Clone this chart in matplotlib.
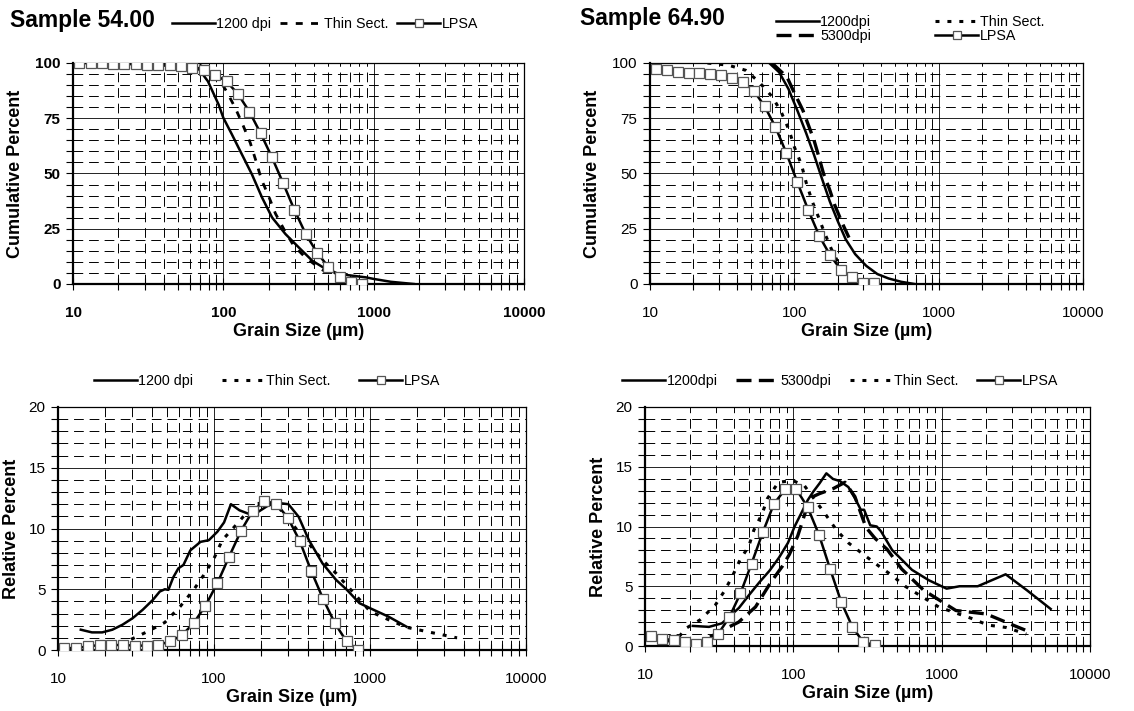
import numpy as np
import matplotlib
matplotlib.use('Agg')
import matplotlib.pyplot as plt
from matplotlib.lines import Line2D
from matplotlib.ticker import FixedLocator, NullFormatter

plt.rcParams['font.family'] = ['Liberation Sans', 'DejaVu Sans']

# LPSA sieve bins (um)
lpsa_bins = [11, 13.1, 15.6, 18.5, 22, 26.2, 31.1, 37, 44, 52.3, 62.2, 74, 88, 105, 125,
             149, 177, 210, 250, 297, 354, 420, 500, 595, 707, 841]

# --- Sample 54.00, cumulative
c54_lpsa_y = [100, 100, 100, 99.7, 99.7, 99.4, 99.2, 99.1, 99.0, 98.5, 97.7, 97.0, 94.7,
              91.7, 86.0, 78.0, 68.2, 57.5, 45.6, 33.5, 22.5, 14.2, 7.7, 3.0, 1.0, 0.0]
c54_1200_x = [15, 30, 50, 62, 68, 79, 93, 100, 114, 133, 155, 181, 211, 259, 318, 391,
              480, 589, 889, 1000, 1300, 1850]
c54_1200_y = [99.8, 99.5, 99.0, 98.5, 97.7, 91.7, 81.2, 75.2, 67.7, 58.6, 49.6, 39.1, 30.1,
              22.6, 16.5, 10.5, 6.8, 4.5, 3.0, 2.3, 1.0, 0.0]
c54_thin_x = [55, 70, 84, 95, 105, 120, 136, 151, 165, 179, 200, 222, 256, 294, 352, 444,
              550, 650, 780]
c54_thin_y = [100, 99, 95.5, 92, 87.2, 79.7, 71.4, 63.9, 55.6, 47.4, 39.8, 31.9, 24.1, 17.3,
              12.0, 6.8, 3.5, 1.5, 0.5]

# --- Sample 64.90, cumulative
c64_lpsa_y = [97.4, 96.8, 96.0, 95.6, 95.4, 95.1, 94.5, 93.4, 91.5, 87.5, 80.5, 71.0, 59.3,
              46.0, 33.4, 21.7, 13.0, 6.5, 3.0, 0.3, 0.3]
c64_1200_x = [67, 78.5, 91, 106, 121, 137, 155, 176, 200, 227, 264, 315, 376, 450, 550, 680]
c64_1200_y = [100, 95.8, 88.3, 77.8, 68.1, 58.4, 47.9, 37.4, 28.4, 20.2, 13.5, 8.2, 4.5, 2.5,
              1.0, 0.0]
c64_5300_x = [70, 89, 100, 114.6, 125, 136.8, 148, 159, 175, 190, 215, 239]
c64_5300_y = [100, 93.6, 86.5, 78.6, 72, 65.1, 57.5, 50.1, 43, 35.9, 27.5, 21.0]
c64_thin_x = [25, 35, 46, 57, 70.5, 81, 92, 100, 112, 121, 133, 148, 160, 180, 211, 240, 260]
c64_thin_y = [100, 99, 96.7, 91.4, 84.6, 77.9, 69.6, 62, 54, 45.7, 37.4, 29.8, 24, 16, 7, 2, 0]

# --- Sample 54.00, relative
r54_lpsa_y = [0.16, 0.16, 0.3, 0.41, 0.41, 0.41, 0.36, 0.36, 0.41, 0.71, 1.2, 2.21, 3.63,
              5.49, 7.68, 9.81, 11.45, 12.24, 12.05, 10.9, 8.99, 6.5, 4.21, 2.21, 0.71, 0.0]
r54_1200_x = [14, 16.5, 19.2, 22.3, 25.9, 30.1, 34.9, 40.6, 44.9, 48.4, 51, 54.8, 59.1, 63.7,
              70.5, 81.9, 92.7, 105, 116, 128.4, 145.6, 165, 192, 223, 259, 300, 349, 406,
              496, 606, 705, 857, 1005, 1312, 1713]
r54_1200_y = [1.67, 1.45, 1.45, 1.67, 2.08, 2.62, 3.31, 4.13, 4.81, 5.0, 4.95, 5.98, 6.72, 7.0,
              8.2, 8.9, 9.04, 9.73, 10.5, 12.0, 11.5, 11.23, 11.37, 11.9, 12.1, 12.0, 10.96,
              9.04, 7.13, 5.77, 5.0, 3.85, 3.43, 2.75, 1.92]
r54_thin_x = [25, 30, 37.7, 48.4, 60.7, 74, 86, 100, 113, 138, 182, 246, 349, 496, 606, 1005,
              1312, 1713, 2490, 3614]
r54_thin_y = [0.5, 0.93, 1.53, 2.27, 3.58, 4.95, 6.17, 7.54, 9.04, 10.27, 12.05, 12.1, 9.73,
              7.4, 6.31, 3.16, 2.5, 1.87, 1.43, 1.0]

# --- Sample 64.90, relative
r64_lpsa_y = [0.8, 0.6, 0.5, 0.3, 0.15, 0.3, 1.0, 2.4, 4.4, 6.9, 9.5, 11.9, 13.1, 13.1, 11.6,
              9.3, 6.45, 3.7, 1.6, 0.3, 0.1]
r64_1200_x = [21, 27, 33, 38, 43, 50, 59, 69, 80, 92, 102, 113, 125, 136, 150, 167, 185, 206,
              235, 262, 285, 300, 330, 365, 390, 463, 631, 820, 1080, 1320, 1750, 2700, 3760,
              5430]
r64_1200_y = [1.68, 1.6, 1.9, 2.58, 3.19, 4.23, 5.33, 6.29, 7.39, 8.63, 10.0, 11.1, 12.2, 12.9,
              13.6, 14.45, 13.98, 13.8, 13.3, 12.3, 11.4, 11.4, 10.1, 10.0, 9.6, 8.04, 6.37,
              5.5, 4.8, 5.0, 5.0, 6.0, 4.66, 3.1]
r64_5300_x = [10, 14, 18, 22, 27, 33, 42.8, 55.6, 70.5, 84.6, 94, 107, 122, 135.5, 150, 185,
              223, 260, 297, 310, 356, 428, 538, 757, 1247, 2000, 3178, 3760]
r64_5300_y = [0.5, 0.45, 0.3, 0.15, 0.7, 1.3, 2.0, 3.27, 5.33, 6.7, 7.66, 9.2, 11.4, 12.5,
              12.75, 13.16, 13.7, 12.5, 10.5, 9.9, 9.0, 8.1, 6.44, 4.66, 2.97, 2.68, 1.64, 1.27]
r64_thin_x = [17, 19, 23.4, 29.7, 33.9, 38.5, 43.9, 50.1, 54.2, 61.8, 66.8, 79.4, 99, 119, 163,
              195, 235, 297, 376, 460, 567, 959, 1580, 2055, 2716, 3720]
r64_thin_y = [0.8, 1.5, 2.17, 3.4, 4.5, 5.74, 7.25, 8.35, 9.7, 11.1, 12.33, 13.7, 13.85, 13.4,
              11.1, 9.72, 8.63, 7.66, 6.7, 5.93, 5.0, 3.25, 2.32, 1.75, 1.55, 1.0]

W, H = 1134, 711
fig = plt.figure(figsize=(W / 100, H / 100), dpi=100)


def px_axes(l, r, t, b):
    return fig.add_axes([l / W, 1 - b / H, (r - l) / W, (b - t) / H])


solid = dict(color='black', lw=1.8, ls='-')
dash53 = dict(color='black', lw=2.4, ls=(0, (4.5, 2.2)))
thin_tl = dict(color='black', lw=2.0, ls=(0, (2.5, 3)))
thin = dict(color='black', lw=2.2, ls=(0, (1.3, 2.6)))
lpsa = dict(color='black', lw=1.8, marker='s', ms=7, mfc='white', mec='#555555', mew=0.9)

LAB = 13
LEG = 10.3


def style(ax, ymax, major, minor, bold):
    ax.set_xscale('log')
    ax.set_xlim(10, 10000)
    ax.set_ylim(0, ymax)
    ax.xaxis.set_major_locator(FixedLocator([10, 100, 1000, 10000]))
    ax.xaxis.set_minor_locator(FixedLocator([m * d for d in (10, 100, 1000) for m in range(2, 10)]))
    ax.xaxis.set_minor_formatter(NullFormatter())
    ax.set_xticklabels(['10', '100', '1000', '10000'])
    ax.yaxis.set_major_locator(FixedLocator(np.arange(0, ymax + 0.1, major)))
    ax.yaxis.set_minor_locator(FixedLocator(np.arange(0, ymax + 0.1, minor)))
    ax.grid(which='major', color='black', lw=0.6, ls='-')
    ax.grid(which='minor', color='black', lw=0.7, ls=(0, (10, 6)))
    ax.set_axisbelow(True)
    ax.tick_params(axis='x', which='both', direction='inout', length=8, width=0.8,
                   pad=12, labelsize=11)
    ax.tick_params(axis='y', which='both', direction='out', length=5, width=0.8,
                   pad=4, labelsize=11)
    for s in ('left', 'bottom'):
        ax.spines[s].set_linewidth(1.6)
    for s in ('top', 'right'):
        ax.spines[s].set_linewidth(0.9)
    wt = 'bold' if bold else 'normal'
    for lab in ax.get_xticklabels() + ax.get_yticklabels():
        lab.set_fontweight(wt)
    ax.set_xlabel('Grain Size (µm)', fontsize=LAB, fontweight='bold', labelpad=2)


def handles(styles):
    return [Line2D([], [], **st) for st in styles]


# Top-left: Sample 54.00 cumulative
ax1 = px_axes(73, 524, 63, 284)
ax1.plot(c54_1200_x, c54_1200_y, **solid, zorder=3)
ax1.plot(c54_thin_x, c54_thin_y, **thin_tl, zorder=3)
ax1.plot(lpsa_bins, c54_lpsa_y, **lpsa, zorder=4)
style(ax1, 100, 25, 5, True)
ax1.set_ylabel('Cumulative Percent', fontsize=LAB, fontweight='bold', labelpad=8)
fig.text(10 / W, 1 - 21 / H, 'Sample 54.00', fontsize=16.5, fontweight='bold', va='center')
fig.legend(handles([solid, thin_tl, lpsa]), ['1200 dpi', 'Thin Sect.', 'LPSA'],
           loc='center', bbox_to_anchor=(325 / W, 1 - 24 / H), ncol=3, frameon=False,
           fontsize=LEG, handlelength=3.0, handletextpad=0.1, columnspacing=0.6,
           markerscale=0.85)

# Top-right: Sample 64.90 cumulative
ax2 = px_axes(650, 1083, 63, 284)
ax2.plot(c64_1200_x, c64_1200_y, **solid, zorder=3)
ax2.plot(c64_5300_x, c64_5300_y, **dash53, zorder=3)
ax2.plot(c64_thin_x, c64_thin_y, **thin, zorder=3)
ax2.plot(lpsa_bins[:21], c64_lpsa_y, **lpsa, zorder=4)
style(ax2, 100, 25, 5, False)
ax2.set_ylabel('Cumulative Percent', fontsize=LAB, fontweight='bold', labelpad=8)
fig.text(580 / W, 1 - 19 / H, 'Sample 64.90', fontsize=16.5, fontweight='bold', va='center')
fig.legend(handles([solid, dash53, thin, lpsa]), ['1200dpi', '5300dpi', 'Thin Sect.', 'LPSA'],
           loc='center', bbox_to_anchor=(910 / W, 1 - 29 / H), ncol=2, frameon=False,
           fontsize=LEG, handlelength=3.0, handletextpad=0.1, columnspacing=4.5,
           labelspacing=0.0, markerscale=0.85)

# Bottom-left: Sample 54.00 relative
ax3 = px_axes(58, 526, 407, 650)
ax3.plot(r54_1200_x, r54_1200_y, **solid, zorder=3)
ax3.plot(r54_thin_x, r54_thin_y, **thin, zorder=3)
ax3.plot(lpsa_bins, r54_lpsa_y, **lpsa, zorder=4)
style(ax3, 20, 5, 1, False)
ax3.set_ylabel('Relative Percent', fontsize=LAB, fontweight='bold', labelpad=6)
fig.legend(handles([solid, thin, lpsa]), ['1200 dpi', 'Thin Sect.', 'LPSA'],
           loc='center', bbox_to_anchor=(267 / W, 1 - 381 / H), ncol=3, frameon=False,
           fontsize=LEG, handlelength=3.0, handletextpad=0.1, columnspacing=2.0,
           markerscale=0.85)

# Bottom-right: Sample 64.90 relative
ax4 = px_axes(645, 1090, 407, 646)
ax4.plot(r64_1200_x, r64_1200_y, **solid, zorder=3)
ax4.plot(r64_5300_x, r64_5300_y, **dash53, zorder=3)
ax4.plot(r64_thin_x, r64_thin_y, **thin, zorder=3)
ax4.plot(lpsa_bins[:21], r64_lpsa_y, **lpsa, zorder=4)
style(ax4, 20, 5, 1, False)
ax4.set_ylabel('Relative Percent', fontsize=LAB, fontweight='bold', labelpad=6)
fig.legend(handles([solid, dash53, thin, lpsa]), ['1200dpi', '5300dpi', 'Thin Sect.', 'LPSA'],
           loc='center', bbox_to_anchor=(840 / W, 1 - 381 / H), ncol=4, frameon=False,
           fontsize=LEG, handlelength=3.0, handletextpad=0.1, columnspacing=1.3,
           markerscale=0.85)

fig.savefig('out.png', dpi=100)
